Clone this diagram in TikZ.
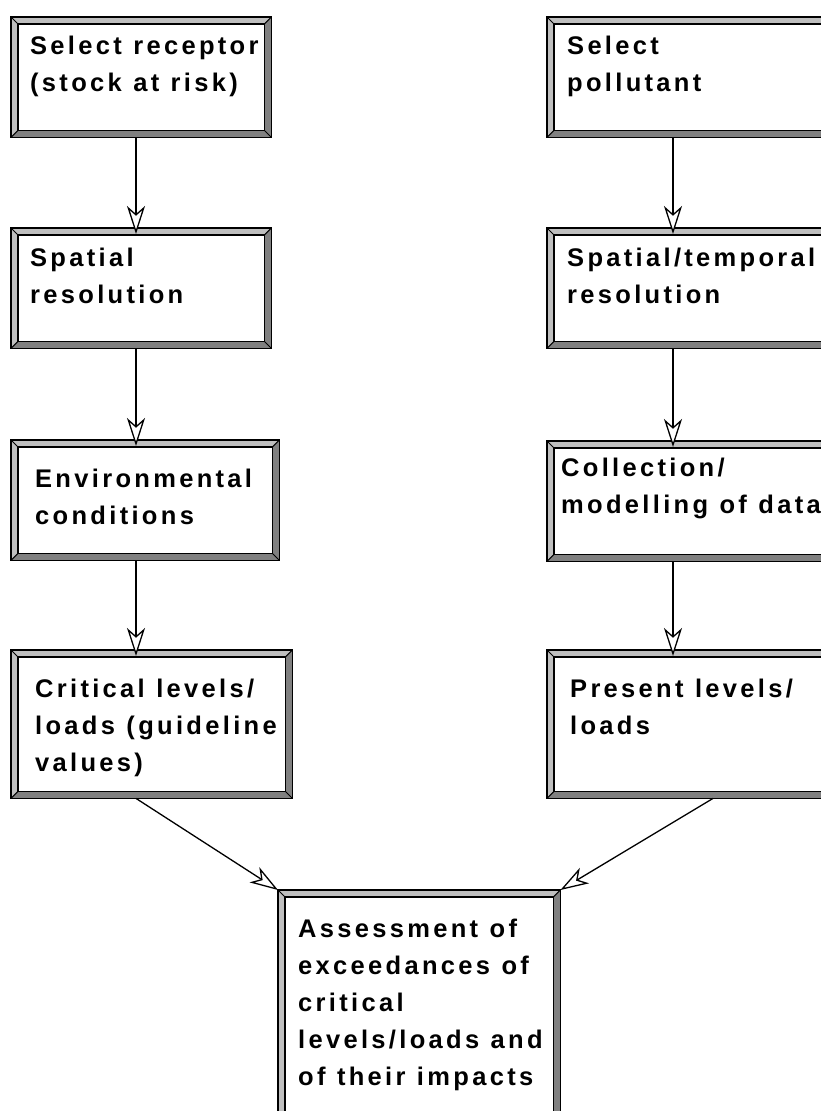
\documentclass[tikz,border=0pt]{standalone}
\usepackage{fontspec}
\newfontfamily\boxfont[LetterSpace=13,WordSpace=1.1]{Liberation Sans}
\usetikzlibrary{arrows.meta,calc}
\definecolor{bevlight}{gray}{0.75}
\definecolor{bevdark}{gray}{0.5}

\begin{document}
\begin{tikzpicture}[x=1pt,y=-1pt,
    frame/.style={rectangle,draw=none,anchor=north west,inner sep=0pt},
    txt/.style={anchor=north west,inner sep=0pt,align=left,
      font=\boxfont\bfseries\fontsize{25.5}{37}\selectfont},
    arr/.style={-{Stealth[length=28pt,width=18pt,inset=8pt,fill=white]},
      line width=1.3pt,shorten >=-6pt}]
      \useasboundingbox (0,0) rectangle (820,1111);

      % receptor side
      \draw (11,17) node[frame,minimum width=260,minimum height=120] (rec) {};
      \draw (11,228) node[frame,minimum width=260,minimum height=120] (res) {};
      \draw (11,440) node[frame,minimum width=268,minimum height=120] (env) {};
      \draw (11,650) node[frame,minimum width=281,minimum height=148] (crit) {};

      % pollutant side
      \draw (547,17) node[frame,minimum width=290,minimum height=120] (pol) {};
      \draw (547,228) node[frame,minimum width=290,minimum height=120] (spt) {};
      \draw (547,441) node[frame,minimum width=290,minimum height=120] (col) {};
      \draw (547,650) node[frame,minimum width=290,minimum height=148] (pres) {};

      \draw (278,890) node[frame,minimum width=282,minimum height=240] (ass) {};

      % bevelled frames
      \foreach \n in {rec,res,env,crit,pol,spt,col,pres,ass} {
        \fill[bevlight] (\n.north west) -- (\n.north east) -- ($(\n.north east)+(-7,7)$)
          -- ($(\n.north west)+(7,7)$) -- ($(\n.south west)+(7,-7)$) -- (\n.south west) -- cycle;
        \fill[bevdark] (\n.south west) -- (\n.south east) -- (\n.north east)
          -- ($(\n.north east)+(-7,7)$) -- ($(\n.south east)+(-7,-7)$) -- ($(\n.south west)+(7,-7)$) -- cycle;
        \draw[line width=1.6pt] (\n.north west) rectangle (\n.south east);
        \draw[line width=1.6pt,fill=white] ($(\n.north west)+(7,7)$) rectangle ($(\n.south east)+(-7,-7)$);
        \draw[line width=1pt] (\n.north west) -- ++(7,7) (\n.north east) -- ++(-7,7)
          (\n.south west) -- ++(7,-7) (\n.south east) -- ++(-7,-7);
      }

      \draw (30,36) node[txt] (recT) {Select receptor\\(stock at risk)};
      \draw (30,248) node[txt] (resT) {Spatial\\resolution};
      \draw (35,469) node[txt] (envT) {Environmental\\conditions};
      \draw (35,679) node[txt] (critT) {Critical levels/\\loads (guideline\\values)};
      \draw (567,36) node[txt] (polT) {Select\\pollutant};
      \draw (567,248) node[txt] (sptT) {Spatial/temporal\\resolution};
      \draw (561,458) node[txt] (colT) {Collection/\\modelling of data};
      \draw (570,679) node[txt] (presT) {Present levels/\\loads};
      \draw (298,919) node[txt] (assT) {Assessment of\\exceedances of\\critical\\levels/loads and\\of their impacts};

      \coordinate (lc) at (136,0);
      \coordinate (rc) at (673,0);
      \coordinate (rd) at (713,0);

      \draw[arr] (rec.south -| lc) -- (res.north -| lc);
      \draw[arr] (res.south -| lc) -- (env.north -| lc);
      \draw[arr] (env.south -| lc) -- (crit.north -| lc);
      \draw[arr] (pol.south -| rc) -- (spt.north -| rc);
      \draw[arr] (spt.south -| rc) -- (col.north -| rc);
      \draw[arr] (col.south -| rc) -- (pres.north -| rc);
      \draw[arr,shorten >=0pt] (crit.south -| lc) -- (ass.north west);
      \draw[arr,shorten >=0pt] (pres.south -| rd) -- (ass.north east);
    \end{tikzpicture}
\end{document}
